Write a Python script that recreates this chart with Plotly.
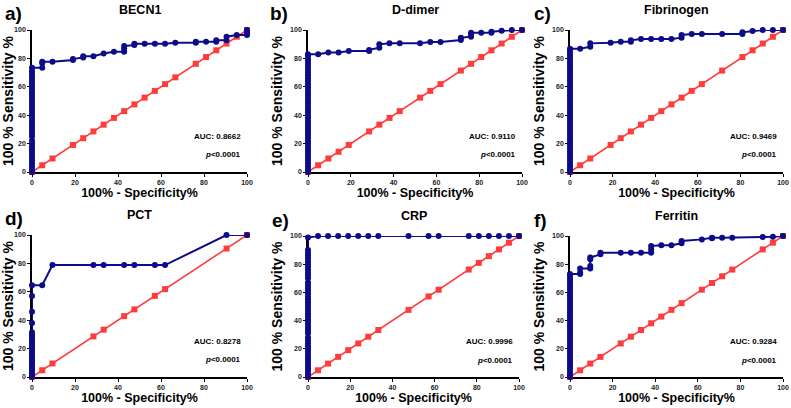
import plotly.graph_objects as go

# ---------------- data ----------------
panel_letters = ["a)", "b)", "c)", "d)", "e)", "f)"]
panel_titles = ["BECN1", "D-dimer", "Fibrinogen", "PCT", "CRP", "Ferritin"]
auc_texts = ["AUC: 0.8662", "AUC: 0.9110", "AUC: 0.9469", "AUC: 0.8278", "AUC: 0.9996", "AUC: 0.9284"]
p_text = "<i>p</i><0.0001"
tick_vals = [0, 20, 40, 60, 80, 100]

# BECN1
becn1_sens_at0 = [0, 2, 4, 6, 8, 10, 12, 14, 16, 18, 20, 22, 25, 27, 29, 31, 33, 35, 37, 39, 41, 43,
                  45, 47, 49, 51, 53, 55, 57, 59, 61, 63, 65, 67, 69, 71, 73.4]
becn1_fpr = [4.76, 4.76, 4.76, 9.52, 19.05, 19.05, 23.81, 23.81, 28.57, 33.33, 38.10, 42.86, 42.86,
             42.86, 47.62, 47.62, 52.38, 57.14, 61.90, 66.67, 76.19, 76.19, 80.95, 85.71, 85.71, 90.48,
             90.48, 95.24, 100, 100, 100]
becn1_sens = [73.4, 76.5, 77.6, 77.6, 78.8, 79.5, 80.7, 81.6, 81.6, 83.5, 84.7, 84.7, 87.0,
              88.7, 89.4, 90.3, 90.3, 90.3, 90.3, 91.0, 91.0, 91.8, 91.8, 91.8, 92.7, 92.7,
              95.3, 96.5, 96.5, 98.0, 100]
becn1_ref = [0, 4.76, 9.52, 19.05, 23.81, 28.57, 33.33, 38.10, 42.86, 47.62, 52.38, 57.14, 61.90,
             66.67, 76.19, 80.95, 85.71, 90.48, 95.24, 100]

# D-dimer
ddimer_sens_at0 = [0, 2, 4, 6, 8, 10, 12, 14, 16, 18, 20, 22, 24, 26, 28, 30, 32, 34, 36, 38, 40, 42,
                   44, 46, 48, 50, 52, 54, 56, 58, 60, 62, 64, 66, 68, 70, 72, 74, 76, 78, 80, 82, 83]
ddimer_fpr = [4.76, 9.52, 14.29, 19.05, 28.57, 28.57, 33.33, 33.33, 38.10, 42.86, 52.38, 57.14, 61.90,
              71.43, 71.43, 76.19, 76.19, 76.19, 80.95, 85.71, 85.71, 90.48, 95.24, 100]
ddimer_sens = [83.0, 84.2, 84.2, 85.2, 85.2, 86.0, 87.5, 89.9, 90.6, 90.6, 90.6, 91.5, 91.5,
               92.9, 94.6, 95.3, 96.9, 98.1, 98.1, 98.1, 98.8, 99.5, 100, 100]
ddimer_ref = [0, 4.76, 9.52, 14.29, 19.05, 28.57, 33.33, 38.10, 42.86, 52.38, 57.14, 61.90, 71.43,
              76.19, 80.95, 85.71, 90.48, 95.24, 100]

# Fibrinogen
fib_sens_at0 = [0, 2, 4, 6, 8, 10, 12, 14, 16, 18, 20, 22, 24, 26, 28, 30, 32, 34, 36, 38, 40, 42,
                44, 46, 48, 50, 52, 54, 56, 58, 60, 62, 64, 66, 68, 70, 72, 74, 76, 78, 80, 82, 84, 86, 86.8]
fib_fpr = [4.76, 9.52, 9.52, 19.05, 23.81, 28.57, 28.57, 33.33, 38.10, 42.86, 47.62, 52.38, 52.38,
           57.14, 61.90, 71.43, 80.95, 80.95, 85.71, 90.48, 95.24, 100]
fib_sens = [86.8, 88.2, 90.6, 91.0, 91.8, 91.8, 92.7, 93.6, 93.6, 93.6, 93.6, 94.6, 96.5,
            97.2, 97.2, 97.2, 97.2, 98.4, 99.3, 100, 100, 100]
fib_ref = [0, 4.76, 9.52, 19.05, 23.81, 28.57, 33.33, 38.10, 42.86, 47.62, 52.38, 57.14, 61.90,
           71.43, 80.95, 85.71, 90.48, 95.24, 100]

# PCT
pct_sens_at0 = [0, 1.5, 3, 4.5, 6, 7.5, 9, 10.5, 12, 13.5, 15, 16.5, 18, 19.5, 21, 22.5, 24, 25.5,
                27, 28.5, 30, 31.5, 38, 46, 57, 64.7]
pct_fpr = [4.76, 9.52, 28.57, 33.33, 42.86, 47.62, 57.14, 61.90, 90.48, 100]
pct_sens = [64.7, 78.8, 78.8, 78.8, 78.8, 78.8, 78.8, 78.8, 100, 100]
pct_ref = [0, 4.76, 9.52, 28.57, 33.33, 42.86, 47.62, 57.14, 61.90, 90.48, 100]

# CRP
crp_sens_at0 = [0, 2, 4, 6, 8, 10, 12, 14, 16, 18, 20, 22, 24, 26, 28, 31, 33, 35, 37, 39, 41, 43,
                45, 47, 49, 51, 53, 55, 57, 59, 61, 63, 65, 67, 70, 72, 74, 76, 78, 80, 82, 84, 86,
                88, 90]
crp_fpr = [0, 4.76, 9.52, 14.29, 19.05, 23.81, 28.57, 33.33, 47.62, 57.14, 61.90, 76.19, 80.95,
           85.71, 90.48, 95.24, 100]
crp_sens = [99.0, 100, 100, 100, 100, 100, 100, 100, 100, 100, 100, 100, 100, 100, 100, 100, 100]
crp_ref = [0, 4.76, 9.52, 14.29, 19.05, 23.81, 28.57, 33.33, 47.62, 57.14, 61.90, 76.19, 80.95,
           85.71, 90.48, 95.24, 100]

# Ferritin
fer_sens_at0 = [0, 2, 4, 6, 8, 10, 12, 14, 16, 18, 20, 22, 24, 26, 28, 30, 32, 34, 36, 38, 40, 42,
                44, 46, 48, 50, 52, 54, 56, 58, 60, 62, 64, 66, 68, 70, 72, 73]
fer_fpr = [4.76, 4.76, 4.76, 9.52, 9.52, 9.52, 9.52, 14.29, 14.29, 23.81, 28.57, 33.33, 38.10, 38.10,
           38.10, 42.86, 47.62, 52.38, 52.38, 61.90, 66.67, 66.67, 71.43, 76.19, 90.48, 95.24, 100]
fer_sens = [73.0, 74.1, 77.0, 77.0, 78.8, 83.5, 84.7, 87.0, 88.2, 88.2, 88.2, 88.2, 88.2, 90.6,
            92.9, 93.4, 93.4, 94.8, 96.5, 97.6, 98.4, 98.8, 98.8, 98.8, 99.3, 99.5, 100]
fer_ref = [0, 4.76, 9.52, 14.29, 23.81, 28.57, 33.33, 38.10, 42.86, 47.62, 52.38, 61.90, 66.67,
           71.43, 76.19, 90.48, 95.24, 100]

panels = [
    (becn1_sens_at0, becn1_fpr, becn1_sens, becn1_ref),
    (ddimer_sens_at0, ddimer_fpr, ddimer_sens, ddimer_ref),
    (fib_sens_at0, fib_fpr, fib_sens, fib_ref),
    (pct_sens_at0, pct_fpr, pct_sens, pct_ref),
    (crp_sens_at0, crp_fpr, crp_sens, crp_ref),
    (fer_sens_at0, fer_fpr, fer_sens, fer_ref),
]

# ---------------- layout geometry (pixels) ----------------
W, H = 791, 408
x_px = [(32, 247), (308, 522), (570, 783), (32, 247), (308, 519), (570, 783)]
y_px = [(30, 172), (30, 172), (30, 172), (235, 377), (236, 377), (236, 377)]
letter_px = [(3, 14), (268, 14), (532, 14), (3, 218), (270, 220), (532, 220)]

BLUE = "#0c0c8a"
RED = "#ff3b3b"
FONT = "Liberation Sans, Arial, sans-serif"

fig = go.Figure()
annotations = []

for i, (at0, fpr, sens, ref) in enumerate(panels):
    n = i + 1
    xa = "x" if n == 1 else f"x{n}"
    ya = "y" if n == 1 else f"y{n}"
    # reference diagonal
    fig.add_trace(go.Scatter(
        x=ref, y=ref, xaxis=xa, yaxis=ya, mode="lines+markers",
        line=dict(color=RED, width=1.6),
        marker=dict(symbol="square", size=6, color=RED),
        cliponaxis=False, showlegend=False, hoverinfo="skip"))
    # ROC curve
    xs = [0.0] * len(at0) + fpr
    ys = at0 + sens
    fig.add_trace(go.Scatter(
        x=xs, y=ys, xaxis=xa, yaxis=ya, mode="lines+markers",
        line=dict(color=BLUE, width=2),
        marker=dict(symbol="circle", size=6, color=BLUE),
        cliponaxis=False, showlegend=False, hoverinfo="skip"))

    x0, x1 = x_px[i]
    yt, yb = y_px[i]
    axis_common = dict(
        range=[0, 100], showgrid=False, zeroline=False, showline=True,
        linecolor="black", linewidth=1.6, ticks="outside", ticklen=3, tickwidth=1.2,
        tickcolor="black", tickvals=tick_vals,
        tickfont=dict(family=FONT, size=7, color="#222222", weight="bold"),
        layer="below traces", fixedrange=True, automargin=False,
    )
    fig.update_layout(**{
        ("xaxis" if n == 1 else f"xaxis{n}"): dict(
            axis_common, domain=[x0 / W, x1 / W], anchor=ya,
            title=dict(text="100% - Specificity%", standoff=2,
                       font=dict(family=FONT, size=12.5, color="black", weight="bold"))),
        ("yaxis" if n == 1 else f"yaxis{n}"): dict(
            axis_common, domain=[1 - yb / H, 1 - yt / H], anchor=xa,
            title=dict(text="100 % Sensitivity %", standoff=4,
                       font=dict(family=FONT, size=14, color="black", weight="bold"))),
    })

    # title
    annotations.append(dict(
        text=panel_titles[i], xref="paper", yref="paper",
        x=(x0 + x1) / 2 / W, y=1 - (yt - 20) / H, xanchor="center", yanchor="middle",
        showarrow=False, font=dict(family=FONT, size=12.5, color="black", weight="bold")))
    # letter
    lx, ly = letter_px[i]
    annotations.append(dict(
        text=panel_letters[i], xref="paper", yref="paper",
        x=lx / W, y=1 - ly / H, xanchor="left", yanchor="middle",
        showarrow=False, font=dict(family=FONT, size=19, color="black", weight="bold")))
    # AUC and p
    annotations.append(dict(
        text=auc_texts[i], xref=xa, yref=ya, x=98, y=25, xanchor="right", yanchor="middle",
        showarrow=False, font=dict(family=FONT, size=8, color="black", weight="bold")))
    annotations.append(dict(
        text=p_text, xref=xa, yref=ya, x=98, y=12, xanchor="right", yanchor="middle",
        showarrow=False, font=dict(family=FONT, size=8, color="black", weight="bold")))

fig.update_layout(
    width=W, height=H, margin=dict(l=0, r=0, t=0, b=0),
    paper_bgcolor="white", plot_bgcolor="white",
    annotations=annotations, showlegend=False,
)

fig.write_html(
    "out.html",
    config={"displayModeBar": False},
    post_script="document.body.style.margin='0';document.body.style.overflow='hidden';",
)
